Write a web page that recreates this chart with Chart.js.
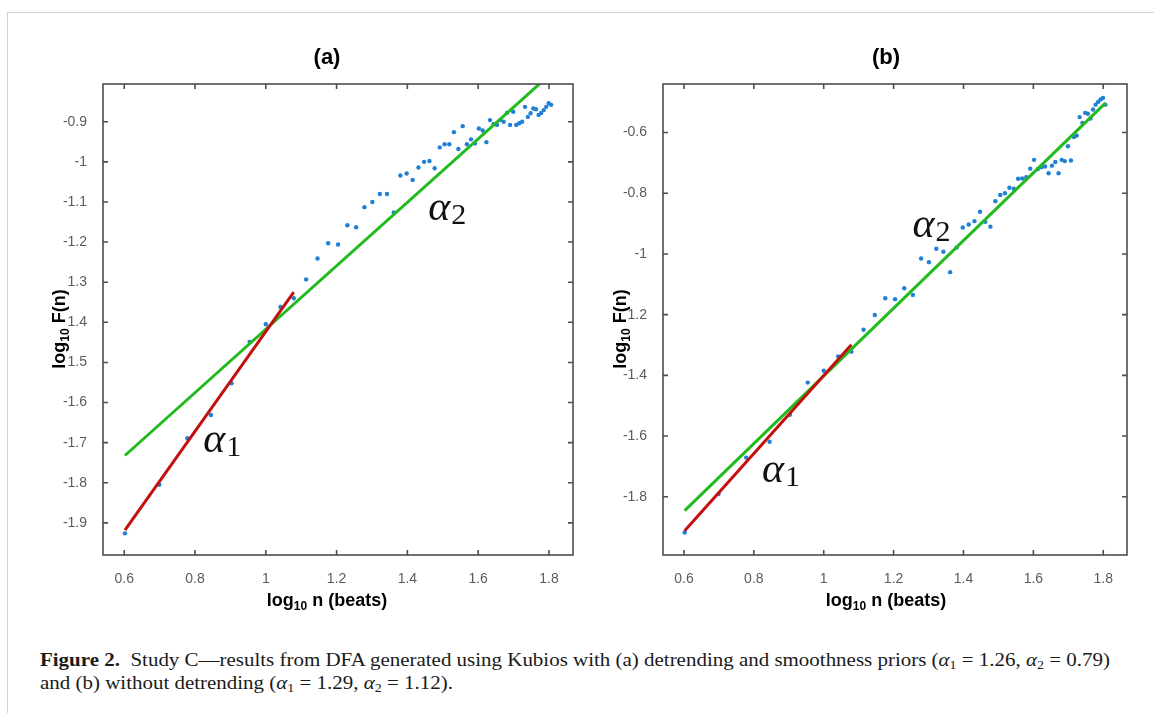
<!DOCTYPE html>
<html lang="en">
<head>
  <meta charset="UTF-8" />
  <title>Study C - DFA (Kubios)</title>
  <script src="https://cdn.jsdelivr.net/npm/chart.js"></script>
  <style>
    body { margin: 0; background: #fff; width: 1154px; height: 713px; position: relative; overflow: hidden; }
    #frame { position: absolute; left: 7px; top: 12px; width: 1200px; height: 800px;
             border-left: 1px solid #d2d2d2; border-top: 1px solid #d2d2d2; }
    .wrap { position: absolute; top: 0; width: 577px; height: 625px; }
    #wrapA { left: 0; }
    #wrapB { left: 577px; }
    .cap { position: absolute; left: 40px; font-family: "Liberation Serif", serif; font-size: 18px;
           line-height: 23px; color: #1a1a1a; white-space: nowrap; transform-origin: 0 0; }
    #cap1 { top: 649px; }
    #cap2 { top: 672px; }
    .cap sub { font-size: 12px; vertical-align: -3px; line-height: 0; }
  </style>
</head>
<body>
  <div id="frame"></div>

  <div class="wrap" id="wrapA"><canvas id="chartA" width="577" height="625"></canvas></div>
  <div class="wrap" id="wrapB"><canvas id="chartB" width="577" height="625"></canvas></div>

  <div class="cap" id="cap1"><b>Figure 2.</b>&nbsp; Study C—results from DFA generated using Kubios with (a) detrending and smoothness priors (<i>α</i><sub>1</sub> = 1.26, <i>α</i><sub>2</sub> = 0.79)</div>
  <div class="cap" id="cap2">and (b) without detrending (<i>α</i><sub>1</sub> = 1.29, <i>α</i><sub>2</sub> = 1.12).</div>

  <script>
    // window sizes n (beats), 4..64
    const beats = [4, 5, 6, 7, 8, 9, 10, 11, 12, 13, 14, 15, 16, 17, 18, 19, 20, 21, 22, 23, 24,
      25, 26, 27, 28, 29, 30, 31, 32, 33, 34, 35, 36, 37, 38, 39, 40, 41, 42, 43, 44,
      45, 46, 47, 48, 49, 50, 51, 52, 53, 54, 55, 56, 57, 58, 59, 60, 61, 62, 63, 64];

    // log10 F(n), panel (a): detrending + smoothness priors
    const logFa = [-1.926, -1.805, -1.689, -1.631, -1.552, -1.449, -1.405, -1.362, -1.340, -1.293,
      -1.241, -1.203, -1.206, -1.158, -1.163, -1.113, -1.100, -1.080, -1.080, -1.126,
      -1.034, -1.029, -1.045, -1.014, -1.000, -0.998, -1.016, -0.964, -0.956, -0.956,
      -0.926, -0.968, -0.911, -0.956, -0.944, -0.954, -0.917, -0.922, -0.951, -0.896,
      -0.906, -0.908, -0.896, -0.900, -0.878, -0.908, -0.875, -0.908, -0.904, -0.900,
      -0.863, -0.888, -0.879, -0.867, -0.869, -0.883, -0.878, -0.871, -0.863, -0.854, -0.858];

    // log10 F(n), panel (b): without detrending
    const logFb = [-1.918, -1.791, -1.671, -1.619, -1.530, -1.424, -1.385, -1.338, -1.322, -1.250,
      -1.201, -1.146, -1.149, -1.113, -1.135, -1.015, -1.027, -0.983, -0.993, -1.060,
      -0.979, -0.913, -0.903, -0.892, -0.861, -0.894, -0.910, -0.826, -0.806, -0.800,
      -0.782, -0.785, -0.752, -0.751, -0.747, -0.719, -0.690, -0.720, -0.714, -0.712,
      -0.734, -0.709, -0.697, -0.734, -0.690, -0.694, -0.645, -0.692, -0.615, -0.610,
      -0.549, -0.568, -0.535, -0.538, -0.554, -0.524, -0.508, -0.499, -0.491, -0.486, -0.508];

    // fitted lines (end points)
    const fitA1x = [0.602, 1.079], fitA1y = [-1.918, -1.325];
    const fitA2x = [0.602, 1.806], fitA2y = [-1.732, -0.780];
    const fitB1x = [0.602, 1.079], fitB1y = [-1.912, -1.299];
    const fitB2x = [0.602, 1.806], fitB2y = [-1.846, -0.503];

    // ticks
    const xTicks = [0.6, 0.8, 1, 1.2, 1.4, 1.6, 1.8];
    const xTickLabels = ['0.6', '0.8', '1', '1.2', '1.4', '1.6', '1.8'];
    const yTicksA = [-0.9, -1, -1.1, -1.2, -1.3, -1.4, -1.5, -1.6, -1.7, -1.8, -1.9];
    const yTickLabelsA = ['-0.9', '-1', '-1.1', '-1.2', '1.3', '1.4', '1.5', '-1.6', '-1.7', '-1.8', '-1.9'];
    const yTicksB = [-0.6, -0.8, -1, -1.2, -1.4, -1.6, -1.8];
    const yTickLabelsB = ['-0.6', '-0.8', '-1', '1.2', '-1.4', '-1.6', '-1.8'];

    const BLUE = '#1f80d6', RED = '#c40f0f', GREEN = '#22bb1e', AXIS = '#4d4d4d';
    const SANS = '"Liberation Sans", Arial, sans-serif';
    const SERIF = '"Liberation Serif", "Times New Roman", serif';

    const pts = (xs, ys) => xs.map((x, i) => ({ x: x, y: ys[i] }));

    // draws "log" + subscript "10" + rest, centred on (0,0) of the current transform
    function drawLogLabel(ctx, rest) {
      const big = 'bold 18px ' + SANS, small = 'bold 12px ' + SANS;
      ctx.font = big; const w1 = ctx.measureText('log').width, w3 = ctx.measureText(rest).width;
      ctx.font = small; const w2 = ctx.measureText('10').width;
      let x = -(w1 + w2 + w3) / 2;
      ctx.textAlign = 'left'; ctx.textBaseline = 'alphabetic'; ctx.fillStyle = '#000';
      ctx.font = big; ctx.fillText('log', x, 0); x += w1;
      ctx.font = small; ctx.fillText('10', x, 4); x += w2;
      ctx.font = big; ctx.fillText(rest, x, 0);
    }

    const decorPlugin = {
      id: 'decor',
      afterDraw(chart, args, o) {
        const ctx = chart.ctx, a = chart.chartArea;
        const xs = chart.scales.x, ys = chart.scales.y;
        ctx.save();
        // box + inward ticks
        ctx.strokeStyle = AXIS; ctx.lineWidth = 1.6;
        ctx.strokeRect(a.left, a.top, a.right - a.left, a.bottom - a.top);
        ctx.beginPath();
        xTicks.forEach(v => {
          const p = xs.getPixelForValue(v);
          ctx.moveTo(p, a.bottom); ctx.lineTo(p, a.bottom - 5);
          ctx.moveTo(p, a.top); ctx.lineTo(p, a.top + 5);
        });
        o.yTicks.forEach(v => {
          const p = ys.getPixelForValue(v);
          ctx.moveTo(a.left, p); ctx.lineTo(a.left + 5, p);
          ctx.moveTo(a.right, p); ctx.lineTo(a.right - 5, p);
        });
        ctx.stroke();

        // panel title
        ctx.fillStyle = '#000'; ctx.font = 'bold 22px ' + SANS;
        ctx.textAlign = 'center'; ctx.textBaseline = 'alphabetic';
        ctx.fillText(o.title, o.titleX, 64);

        // axis titles
        ctx.save(); ctx.translate(o.titleX, 606); drawLogLabel(ctx, ' n (beats)'); ctx.restore();
        ctx.save(); ctx.translate(o.yTitleX, 329); ctx.rotate(-Math.PI / 2); drawLogLabel(ctx, ' F(n)'); ctx.restore();

        // alpha annotations
        o.alphas.forEach(al => {
          const px = xs.getPixelForValue(al.x), py = ys.getPixelForValue(al.y);
          ctx.textAlign = 'left'; ctx.fillStyle = '#111';
          ctx.font = 'italic 42px ' + SERIF; ctx.fillText('α', px, py);
          const w = ctx.measureText('α').width;
          ctx.font = '30px ' + SERIF; ctx.fillText(al.sub, px + w + 1, py + 4);
        });
        ctx.restore();
      }
    };

    function makeChart(id, c) {
      return new Chart(document.getElementById(id), {
        type: 'scatter',
        data: {
          datasets: [
            { data: pts(c.fit1x, c.fit1y), showLine: true, borderColor: RED, borderWidth: 3, pointRadius: 0 },
            { data: pts(c.fit2x, c.fit2y), showLine: true, borderColor: GREEN, borderWidth: 3, pointRadius: 0 },
            { data: pts(beats.map(n => Math.log10(n)), c.scores), showLine: false,
              backgroundColor: BLUE, borderColor: BLUE, pointRadius: 2.2, pointBorderWidth: 0 }
          ]
        },
        options: {
          responsive: false,
          animation: false,
          layout: { padding: { left: 0, top: 84, right: c.padRight, bottom: 0 } },
          plugins: { legend: { display: false }, tooltip: { enabled: false },
            decor: { title: c.title, titleX: c.titleX, yTitleX: c.yTitleX, yTicks: c.yTicks, alphas: c.alphas } },
          scales: {
            x: {
              type: 'linear', min: 0.54, max: 1.868,
              grid: { display: false }, border: { display: false },
              afterBuildTicks: s => { s.ticks = xTicks.map(v => ({ value: v })); },
              afterFit: s => { s.height = 70; },
              ticks: { autoSkip: false, maxRotation: 0, padding: 8, color: '#5c5c5c',
                font: { family: SANS, size: 14 }, callback: (v, i) => xTickLabels[i] }
            },
            y: {
              type: 'linear', min: c.yMin, max: c.yMax,
              grid: { display: false }, border: { display: false },
              afterBuildTicks: s => { s.ticks = c.yTicks.map(v => ({ value: v })); },
              afterFit: s => { s.width = c.yWidth; },
              ticks: { autoSkip: false, padding: 8, color: '#5c5c5c',
                font: { family: SANS, size: 14 }, callback: (v, i) => c.yLabels[i] }
            }
          }
        },
        plugins: [decorPlugin]
      });
    }

    makeChart('chartA', {
      scores: logFa, fit1x: fitA1x, fit1y: fitA1y, fit2x: fitA2x, fit2y: fitA2y,
      yMin: -1.98, yMax: -0.806, yTicks: yTicksA, yLabels: yTickLabelsA,
      yWidth: 103, padRight: 4, title: '(a)', titleX: 327, yTitleX: 65,
      alphas: [{ x: 0.823, y: -1.723, sub: '1' }, { x: 1.459, y: -1.145, sub: '2' }]
    });

    makeChart('chartB', {
      scores: logFb, fit1x: fitB1x, fit1y: fitB1y, fit2x: fitB2x, fit2y: fitB2y,
      yMin: -1.992, yMax: -0.44, yTicks: yTicksB, yLabels: yTickLabelsB,
      yWidth: 86, padRight: 27, title: '(b)', titleX: 309, yTitleX: 49,
      alphas: [{ x: 0.823, y: -1.7525, sub: '1' }, { x: 1.254, y: -0.943, sub: '2' }]
    });

    // stretch the caption so that its first line spans the same width as in the figure
    const cap1 = document.getElementById('cap1'), cap2 = document.getElementById('cap2');
    const k = 1070 / cap1.offsetWidth;
    [cap1, cap2].forEach(el => { el.style.transform = 'scaleX(' + k + ')'; });
  </script>
</body>
</html>
